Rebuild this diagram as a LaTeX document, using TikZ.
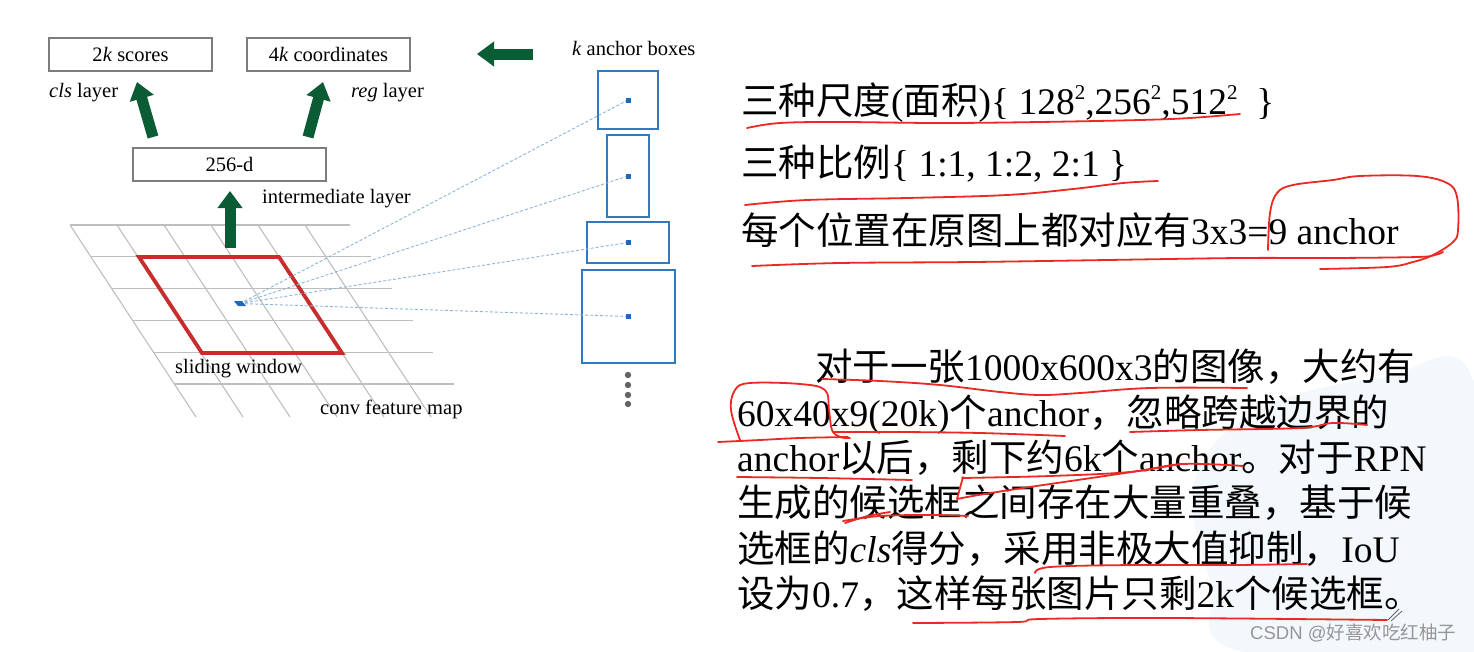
\documentclass[tikz,border=0pt]{standalone}
\usepackage{fontspec}
\setmainfont{Liberation Serif}
\newfontfamily\cjk{Noto Sans CJK SC}
\newfontfamily\wmfont{Liberation Sans}
\usetikzlibrary{arrows.meta}
\definecolor{dgreen}{RGB}{10,92,52}
\definecolor{gridgray}{RGB}{190,190,190}
\definecolor{boxgray}{RGB}{125,125,125}
\definecolor{winred}{RGB}{200,45,45}
\definecolor{anchblue}{RGB}{52,120,190}
\definecolor{dashblue}{RGB}{140,180,220}
\definecolor{dotblue}{RGB}{30,105,190}
\definecolor{penred}{RGB}{235,40,35}
\definecolor{wmgray}{RGB}{150,150,150}
\definecolor{blotch}{RGB}{243,248,253}
\definecolor{dotgray}{RGB}{100,100,100}
\newcommand\bigtxt{\fontsize{37.5pt}{45pt}\selectfont}
\newcommand\smtxt{\fontsize{20.5pt}{24pt}\selectfont}
\newcommand\sqtwo{\raisebox{0.40em}{\fontsize{21pt}{21pt}\selectfont 2}}
\begin{document}
\begin{tikzpicture}[x=1pt,y=-1pt,
  layerbox/.style={draw=boxgray, line width=1.3pt, minimum width=163pt, minimum height=33pt, inner sep=0pt, font=\smtxt},
  lbl/.style={anchor=base west, inner sep=0pt, font=\smtxt},
  garrow/.style={draw=dgreen, line width=11pt, -{Triangle[width=24pt,length=17pt]}},
  gridline/.style={draw=gridgray, line width=1.1pt},
  anchorbox/.style={draw=anchblue, line width=1.8pt, inner sep=0pt},
  dotsq/.style={fill=dotblue, minimum size=5pt, inner sep=0pt},
  ray/.style={draw=dashblue, line width=0.9pt, dash pattern=on 3pt off 2pt},
  para/.style={anchor=base west, inner sep=0pt, font=\bigtxt},
  pen/.style={draw=penred, line width=1.8pt, line cap=round, line join=round},
]
\useasboundingbox (0,0) rectangle (1474,651);
\fill[white] (0,0) rectangle (1474,651);
% faint background blotch
\fill[blotch] plot[smooth cycle, tension=0.7] coordinates {(1195,480) (1260,410) (1380,378) (1474,382) (1474,651) (1240,651) (1210,580)};

% feature map grid
\foreach \i in {0,...,5}
  \draw[gridline] ({70+0.656*31.8*\i},{225+31.8*\i}) -- ({350+0.656*31.8*\i},{225+31.8*\i});
\foreach \j in {0,...,5}
  \draw[gridline] ({70+47*\j},225) -- ({196+47*\j},417);
% sliding window
\draw[draw=winred, line width=3.8pt, line join=miter] (139,257) -- (279,257) -- (342,353) -- (202,353) -- cycle;

% anchor boxes
\node[anchorbox, minimum width=60pt, minimum height=58pt] (a1) at (628,100) {};
\node[anchorbox, minimum width=42pt, minimum height=82pt] (a2) at (628,176) {};
\node[anchorbox, minimum width=82pt, minimum height=41pt] (a3) at (628,242.5) {};
\node[anchorbox, minimum width=93pt, minimum height=93pt] (a4) at (628.5,316.5) {};
\coordinate (ctr) at (240,303.5);
\draw[ray] (ctr) -- (a1.center);
\draw[ray] (ctr) -- (a2.center);
\draw[ray] (ctr) -- (a3.center);
\draw[ray] (ctr) -- (a4.center);
\fill[dotblue] (234,301) -- (242,301) -- (246,306) -- (238,306) -- cycle;
\node[dotsq] (d1) at (a1.center) {};
\node[dotsq] (d2) at (a2.center) {};
\node[dotsq] (d3) at (a3.center) {};
\node[dotsq] (d4) at (a4.center) {};
\foreach \yy in {375,385,395,404} \fill[dotgray] (628,\yy) circle (3.2pt);
\node[lbl] (kab) at (572,55) {\textit{k} anchor boxes};

% layers
\node[layerbox] (cls) at (130.5,54.5) {2\textit{k} scores};
\node[layerbox] (reg) at (328.5,54.5) {4\textit{k} coordinates};
\node[layerbox, minimum width=193pt] (mid) at (229.5,164.5) {256-d};
\node[lbl] (clsl) at (49,97) {\textit{cls} layer};
\node[lbl] (regl) at (351,97) {\textit{reg} layer};
\node[lbl] (midl) at (262,203) {intermediate layer};
\node[lbl] (slw) at (175,373) {sliding window};
\node[lbl] (cfm) at (320,414) {conv feature map};

% green arrows
\coordinate (g1s) at (153,137); \coordinate (g1e) at (137,82);
\coordinate (g2s) at (308,137); \coordinate (g2e) at (323,82);
\coordinate (g3s) at (230,248); \coordinate (g3e) at (230,191);
\coordinate (g4s) at (533,54);  \coordinate (g4e) at (477,54);
\draw[garrow] (g1s) -- (g1e);
\draw[garrow] (g2s) -- (g2e);
\draw[garrow] (g3s) -- (g3e);
\draw[garrow] (g4s) -- (g4e);

% right text
\node[para] (t1) at (741,114) {{\cjk 三种尺度}({\cjk 面积})\{ 128\sqtwo,256\sqtwo,512\sqtwo\ \ \}};
\node[para] (t2) at (741,176) {{\cjk 三种比例}\{ 1:1, 1:2, 2:1 \}};
\node[para] (t3) at (741,244) {{\cjk 每个位置在原图上都对应有}3x3=9 anchor};
\node[para] (p1) at (815,380) {{\cjk 对于一张}1000x600x3{\cjk 的图像，大约有}};
\node[para] (p2) at (737,426) {60x40x9(20k){\cjk 个}anchor{\cjk ，忽略跨越边界的}};
\node[para] (p3) at (737,471) {anchor{\cjk 以后，剩下约}6k{\cjk 个}anchor{\cjk 。对于}RPN};
\node[para] (p4) at (737,516) {{\cjk 生成的候选框之间存在大量重叠，基于候}};
\node[para] (p5) at (737,562) {{\cjk 选框的}\textit{cls}{\cjk 得分，采用非极大值抑制，}IoU};
\node[para] (p6) at (737,607) {{\cjk 设为}0.7{\cjk ，这样每张图片只剩}2k{\cjk 个候选框。}};

% red pen annotations
\draw[pen] plot[smooth, tension=0.6] coordinates {(747,128) (780,123) (840,122) (940,123) (1040,122) (1140,120) (1190,118) (1240,114)};
\draw[pen] plot[smooth, tension=0.6] coordinates {(745,205) (807,200) (907,198) (1007,195) (1073,189) (1123,183) (1158,181)};
\draw[pen] plot[smooth, tension=0.6] coordinates {(752,266) (840,263) (973,262) (1107,260) (1240,258) (1333,258) (1417,257) (1435,255) (1443,252)};
\draw[pen] plot[smooth, tension=0.6] coordinates {(1268,250) (1270,213) (1277,193) (1293,185) (1333,180) (1360,176) (1417,176) (1447,183) (1457,197) (1458,230) (1453,242) (1433,255) (1413,262) (1387,267) (1320,269)};
\draw[pen] plot[smooth, tension=0.6] coordinates {(822,379) (880,381) (940,385) (1000,392) (1040,395) (1080,393) (1150,388) (1247,388)};
\draw[pen] plot[smooth, tension=0.6] coordinates {(740,440) (731,410) (735,390) (750,383) (800,384) (825,390) (829,410) (832,430) (840,437) (850,438)};
\draw[pen] plot[smooth, tension=0.6] coordinates {(718,442) (760,440) (800,438) (848,437)};
\draw[pen] plot[smooth, tension=0.6] coordinates {(833,432) (900,432) (980,433) (1065,436)};
\draw[pen] plot[smooth, tension=0.6] coordinates {(1130,432) (1200,430) (1300,428) (1333,423) (1367,425)};
\draw[pen] plot[smooth, tension=0.6] coordinates {(737,477) (820,478) (912,480)};
\draw[pen] plot[smooth, tension=0.6] coordinates {(962,478) (1050,476) (1130,472) (1183,464) (1243,466)};
\draw[pen] (963,477) -- (957,499) .. controls (1000,490) and (1120,475) .. (1180,464);
\draw[pen] plot[smooth, tension=0.6] coordinates {(843,521) (880,516) (930,515) (968,516)};
\draw[pen] plot[smooth, tension=0.6] coordinates {(845,523) (868,516) (890,512)};
\draw[pen] plot[smooth, tension=0.6] coordinates {(1035,573) (1050,567) (1133,565) (1233,565) (1307,564)};
\draw[pen] plot[smooth, tension=0.6] coordinates {(913,623) (1017,622) (1040,619) (1167,618) (1387,620)};
\draw[draw=dotgray, line width=0.8pt] (1388,620) -- (1399,609);
\draw[draw=dotgray, line width=0.8pt] (1391,621) -- (1402,611);

% watermark
\node[anchor=west, inner sep=0pt, text=wmgray, font=\wmfont\fontsize{18.5pt}{20pt}\selectfont] (wm) at (1250,633) {CSDN @{\cjk 好喜欢吃红柚子}};
\end{tikzpicture}
\end{document}
